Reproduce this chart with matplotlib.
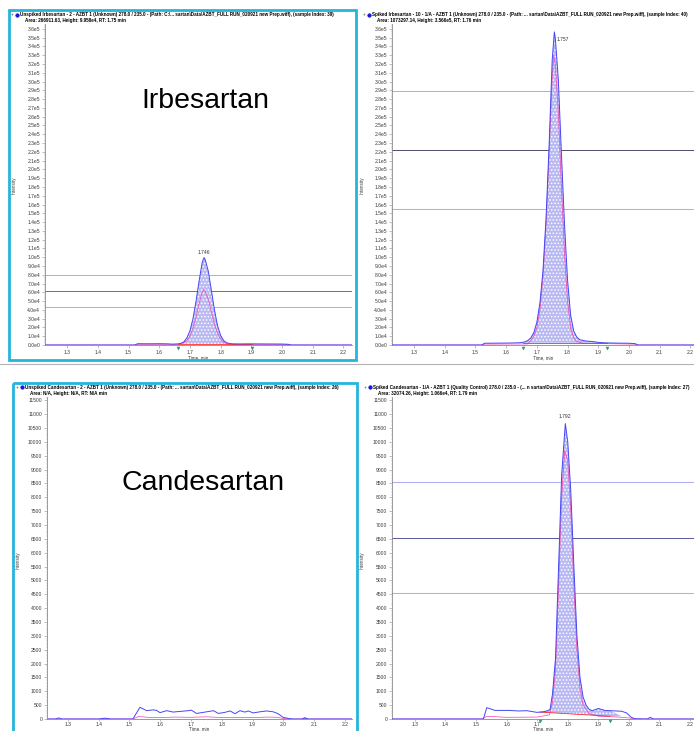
import numpy as np
import matplotlib
matplotlib.use('Agg')
import matplotlib.pyplot as plt
from matplotlib.patches import Rectangle
from matplotlib.ticker import MultipleLocator, AutoMinorLocator, FuncFormatter

plt.rcParams['font.family'] = ['Liberation Sans', 'DejaVu Sans']
plt.rcParams['hatch.linewidth'] = 0.7

# --- Irbesartan, unspiked (XIC 278.0/235.0) ---
irb_u_t = [1.228, 1.30, 1.40, 1.50, 1.52, 1.53, 1.56, 1.60, 1.63, 1.64, 1.66, 1.67, 1.68,
           1.69, 1.70, 1.71, 1.72, 1.73, 1.74, 1.746, 1.75, 1.76, 1.77, 1.78, 1.79, 1.80,
           1.81, 1.82, 1.83, 1.84, 1.86, 1.89, 1.95, 2.00, 2.02, 2.03, 2.10, 2.228]
irb_u_v = [0, 0, 0, 0, 0, 1500, 1400, 1500, 1300, 1000, 1200, 1800, 3500,
           8000, 16000, 30000, 50000, 73000, 94000, 99580, 97000, 84000, 62000, 40000, 22000, 11000,
           5000, 2500, 1600, 1300, 1200, 1300, 1200, 1100, 800, 0, 0, 0]
irb_u_rt = [1.228, 1.52, 1.53, 1.65, 1.66, 1.68, 1.69, 1.70, 1.71, 1.72, 1.73, 1.74, 1.745,
            1.75, 1.76, 1.77, 1.78, 1.79, 1.80, 1.81, 1.82, 1.84, 2.02, 2.03, 2.228]
irb_u_rv = [0, 0, 500, 500, 800, 2500, 5000, 10000, 19000, 32000, 47000, 60000, 63000,
            61000, 52000, 38000, 24000, 13000, 6500, 3000, 1500, 800, 500, 0, 0]

# --- Irbesartan, spiked ---
irb_s_t = [1.228, 1.40, 1.50, 1.52, 1.53, 1.60, 1.64, 1.65, 1.66, 1.67, 1.68, 1.69, 1.70,
           1.71, 1.72, 1.73, 1.74, 1.75, 1.757, 1.76, 1.77, 1.78, 1.79, 1.80, 1.81, 1.82,
           1.83, 1.84, 1.86, 1.88, 1.90, 1.92, 1.95, 2.00, 2.02, 2.03, 2.212]
irb_s_v = [0, 0, 0, 0, 2000, 2200, 2500, 2800, 3500, 5000, 8000, 14000, 26000,
           48000, 85000, 145000, 228000, 325000, 356600, 350000, 302000, 218000, 138000, 74000, 34000, 16000,
           9000, 6000, 4500, 4000, 3000, 2500, 2200, 2000, 1500, 0, 0]
irb_s_rt = [1.228, 1.52, 1.53, 1.67, 1.68, 1.69, 1.70, 1.71, 1.72, 1.73, 1.74, 1.75, 1.755,
            1.76, 1.77, 1.78, 1.79, 1.80, 1.81, 1.82, 1.83, 1.85, 2.02, 2.03, 2.212]
irb_s_rv = [0, 0, 1000, 1200, 5000, 10000, 20000, 40000, 78000, 138000, 220000, 305000, 330000,
            320000, 265000, 180000, 105000, 50000, 20000, 8000, 4000, 2000, 1000, 0, 0]

# --- Candesartan, unspiked ---
cand_u_t = [1.232, 1.26, 1.27, 1.28, 1.40, 1.42, 1.44, 1.50, 1.511, 1.534, 1.556, 1.577, 1.588,
            1.599, 1.621, 1.642, 1.670, 1.691, 1.701, 1.718, 1.751, 1.773, 1.789, 1.810, 1.827,
            1.843, 1.859, 1.875, 1.886, 1.902, 1.924, 1.945, 1.967, 1.983, 1.999, 2.021, 2.032,
            2.06, 2.07, 2.08, 2.223]
cand_u_v = [0, 0, 40, 0, 0, 30, 0, 0, 0, 422, 300, 330, 310,
            230, 300, 250, 280, 300, 320, 200, 260, 300, 200, 240, 290,
            190, 300, 250, 290, 220, 260, 290, 260, 190, 60, 10, 0,
            0, 30, 0, 0]
cand_u_rt = [1.232, 1.51, 1.53, 1.56, 1.60, 1.65, 1.70, 1.75, 1.80, 1.85, 1.90, 1.95, 1.98,
             2.00, 2.02, 2.06, 2.07, 2.08, 2.223]
cand_u_rv = [0, 0, 90, 60, 50, 70, 60, 80, 50, 60, 50, 70, 60,
             20, 0, 0, 60, 0, 0]

# --- Candesartan, spiked ---
cand_s_t = [1.225, 1.40, 1.50, 1.524, 1.535, 1.562, 1.606, 1.639, 1.666, 1.699, 1.71, 1.726,
            1.742, 1.75, 1.76, 1.77, 1.78, 1.792, 1.80, 1.81, 1.82, 1.83, 1.84, 1.85, 1.86,
            1.87, 1.88, 1.90, 1.921, 1.94, 1.976, 1.992, 2.008, 2.019, 2.06, 2.07, 2.08, 2.213]
cand_s_v = [0, 0, 0, 0, 410, 310, 310, 290, 300, 240, 250, 270,
            340, 900, 2200, 5500, 8800, 10660, 10000, 8200, 5500, 3000, 1500, 800, 500,
            350, 300, 380, 310, 300, 280, 220, 60, 10, 0, 60, 0, 0]
cand_s_rt = [1.225, 1.52, 1.535, 1.60, 1.70, 1.74, 1.75, 1.76, 1.77, 1.78, 1.79, 1.80, 1.81,
             1.82, 1.83, 1.84, 1.85, 1.87, 1.90, 1.95, 2.00, 2.02, 2.213]
cand_s_rv = [0, 0, 100, 60, 70, 150, 600, 1800, 4800, 8000, 9700, 9300, 7500,
             4800, 2500, 1100, 500, 200, 100, 80, 40, 0, 0]

# integration marks (start, end) and baselines
irb_u_int = (1.661, 1.902)
irb_s_int = (1.656, 1.927)
cand_s_int = (1.709, 1.938)
cand_s_base = (250, 100)

irb_u_lines = [80000, 61000, 43000]
irb_s_lines = [289000, 222000, 155000]
cand_s_lines = [8556, 6534, 4549]

headers = {
    'tl': ["Unspiked Irbesartan - 2 - AZBT 1 (Unknown) 278.0 / 235.0 - (Path: C:\\... sartan\\Data\\AZBT_FULL RUN_020921 new Prep.wiff), (sample Index: 39)",
           "Area: 266911.63, Height: 9.958e4, RT: 1.75 min"],
    'tr': ["Spiked Irbesartan - 10 - 1/A - AZBT 1 (Unknown) 278.0 / 235.0 - (Path: ... sartan\\Data\\AZBT_FULL RUN_020921 new Prep.wiff), (sample Index: 40)",
           "Area: 1073297.14, Height: 3.566e5, RT: 1.76 min"],
    'bl': ["Unspiked Candesartan - 2 - AZBT 1 (Unknown) 278.0 / 235.0 - (Path: ... sartan\\Data\\AZBT_FULL RUN_020921 new Prep.wiff), (sample Index: 26)",
           "Area: N/A, Height: N/A, RT: N/A min"],
    'br': ["Spiked Candesartan - 1/A - AZBT 1 (Quality Control) 278.0 / 235.0 - (... n sartan\\Data\\AZBT_FULL RUN_020921 new Prep.wiff), (sample Index: 27)",
           "Area: 32074.26, Height: 1.066e4, RT: 1.79 min"],
}

BLUE = '#4646f5'
PINK = '#f050b8'
RED = '#ff2a2a'
FILL = '#b9b9f2'
GREEN = '#3a9a6a'

W, H = 694, 731
fig = plt.figure(figsize=(W / 100, H / 100), dpi=100)


def box(l, t, r, b):
    return fig.add_axes([l / W, 1 - b / H, (r - l) / W, (b - t) / H])


def sci(v, pos):
    v = round(v)
    if v == 0:
        return '0.0e0'
    e = int(np.floor(np.log10(abs(v))))
    return f'{v / 10 ** e:.1f}e{e}'


def style(ax, xlim, ylim, step, fmt):
    ax.set_xlim(*xlim)
    ax.set_ylim(*ylim)
    for s in ('top', 'right'):
        ax.spines[s].set_visible(False)
    for s in ('left', 'bottom'):
        ax.spines[s].set_color('#8a8a8a')
        ax.spines[s].set_linewidth(0.6)
    ax.xaxis.set_major_locator(MultipleLocator(0.1))
    ax.xaxis.set_minor_locator(AutoMinorLocator(5))
    ax.xaxis.set_major_formatter(FuncFormatter(lambda v, p: f'{v:.1f}'))
    ax.yaxis.set_major_locator(MultipleLocator(step))
    ax.yaxis.set_minor_locator(AutoMinorLocator(5))
    ax.yaxis.set_major_formatter(fmt)
    ax.tick_params(which='major', labelsize=3.6, length=2, width=0.4,
                   color='#8a8a8a', labelcolor='#3a3a3a', pad=1.5)
    ax.tick_params(which='minor', length=1, width=0.3, color='#9a9a9a')
    ax.set_xlabel('Time, min', fontsize=3.6, color='#3a3a3a', labelpad=1.5)


def header(key, l, t, r, x0):
    hx = box(l, t, r, t + 14)
    hx.set_xlim(l, r)
    hx.set_ylim(t + 14, t)
    hx.axis('off')
    hx.text(x0 - 8, t + 4.5, '+', fontsize=3.6, color='#555555', ha='center', va='center')
    hx.plot([x0 - 3.5], [t + 4.5], 'o', ms=2.6, color='#1414e6', mec='#0000aa', mew=0.3)
    hx.text(x0, t + 4.5, headers[key][0], fontsize=3.3, fontweight='bold',
            ha='left', va='center', clip_on=True)
    hx.text(x0 + 5, t + 10.5, headers[key][1], fontsize=3.3, fontweight='bold',
            ha='left', va='center', clip_on=True)


def trace(ax, t, v, rt, rv, lo, hi, base=(0, 0), marks_y=0):
    t = np.array(t, dtype=float)
    v = np.array(v, dtype=float)
    b = np.interp(t, [lo, hi], list(base))
    inside = (t >= lo - 0.01) & (t <= hi + 0.01)
    ax.fill_between(t, b, v, where=inside & (v >= b), interpolate=True,
                    facecolor=FILL, edgecolor='white', hatch='.....', linewidth=0, zorder=1)
    ax.plot(rt, rv, color=PINK, lw=0.55, zorder=2)
    ax.plot([lo, hi], list(base), color=RED, lw=0.6, zorder=3)
    ax.plot(t, v, color=BLUE, lw=0.7, zorder=4)
    ax.plot([lo, hi], [marks_y, marks_y], 'v', color=GREEN, ms=2.2, mew=0.3,
            clip_on=False, zorder=5)


# top left: unspiked irbesartan
a1 = box(45, 24, 352, 345)
style(a1, (1.228, 2.228), (0, 365600), 10000, FuncFormatter(sci))
for y, c in zip(irb_u_lines, ['#9c9cf0', '#4b4bd8', '#9c9cf0']):
    a1.axhline(y, color=c, lw=0.6, zorder=0.5)
trace(a1, irb_u_t, irb_u_v, irb_u_rt, irb_u_rv, *irb_u_int, base=(1200, 1200), marks_y=-3000)
a1.text(1.746, 99580 + 2500, '1.746', fontsize=3.6, ha='center', va='bottom', color='#333333')

# top right: spiked irbesartan
a2 = box(392, 24, 694, 345)
style(a2, (1.228, 2.212), (0, 365600), 10000, FuncFormatter(sci))
for y, c in zip(irb_s_lines, ['#9c9cf0', '#2f2f55', '#9c9cf0']):
    a2.axhline(y, color=c, lw=0.6, zorder=0.5)
trace(a2, irb_s_t, irb_s_v, irb_s_rt, irb_s_rv, *irb_s_int, base=(2500, 2500), marks_y=-3000)
a2.text(1.763, 356600 - 9000, '1.757', fontsize=3.6, ha='left', va='center', color='#333333')

# top row: title below the tick labels, above the frame edge
for ax in (a1, a2):
    ax.xaxis.label.set_fontsize(3.3)
    ax.xaxis.set_label_coords(0.5, -10 / 321)

# bottom left: unspiked candesartan (no integrated peak)
a3 = box(47, 397, 352, 719)
style(a3, (1.232, 2.223), (0, 11620), 500, FuncFormatter(lambda v, p: f'{v:.0f}'))
a3.plot(cand_u_rt, cand_u_rv, color=PINK, lw=0.55)
a3.plot(cand_u_t, cand_u_v, color=BLUE, lw=0.7)

# bottom right: spiked candesartan
a4 = box(392, 397, 694, 719)
style(a4, (1.225, 2.213), (0, 11620), 500, FuncFormatter(lambda v, p: f'{v:.0f}'))
for y, c in zip(cand_s_lines, ['#9c9cf0', '#3d3d8f', '#9c9cf0']):
    a4.axhline(y, color=c, lw=0.6, zorder=0.5)
trace(a4, cand_s_t, cand_s_v, cand_s_rt, cand_s_rv, *cand_s_int, base=cand_s_base, marks_y=-90)
a4.text(1.792, 10660 + 150, '1.792', fontsize=3.6, ha='center', va='bottom', color='#333333')

# the bottom row sits at the lower edge: tighter x ticks so the axis title fits underneath
for ax in (a3, a4):
    ax.tick_params(axis='x', which='major', length=1.3, pad=0.6)
    ax.tick_params(axis='x', which='minor', length=0.8)
    ax.xaxis.label.set_fontsize(3.3)
    ax.xaxis.set_label_coords(0.5, -7.2 / 322)

# panel headers
header('tl', 9, 10, 355, 20)
header('tr', 360, 10, 694, 372)
header('bl', 13, 383, 356, 25)
header('br', 360, 383, 694, 373)

# overlay in pixel coordinates: frames, labels, separators
ov = box(0, 0, W, H)
ov.set_xlim(0, W)
ov.set_ylim(H, 0)
ov.axis('off')
ov.set_zorder(10)
ov.plot([0, W], [363.5, 363.5], color='#b4b4b4', lw=0.8)
ov.add_patch(Rectangle((9, 10), 347, 350, fill=False, edgecolor='#25b4dc', lw=2))
ov.add_patch(Rectangle((13, 383), 344, 360, fill=False, edgecolor='#25b4dc', lw=2, clip_on=False))
for x, y in [(14, 185), (362, 185), (18, 560), (362, 560)]:
    ov.text(x, y, 'Intensity', rotation=90, fontsize=3.3, ha='center', va='center', color='#3a3a3a')
ov.text(205, 101, 'Irbesartan', fontsize=20.5, ha='center', va='center')
ov.text(203, 483, 'Candesartan', fontsize=20.5, ha='center', va='center')

fig.savefig('out.png', dpi=100)
